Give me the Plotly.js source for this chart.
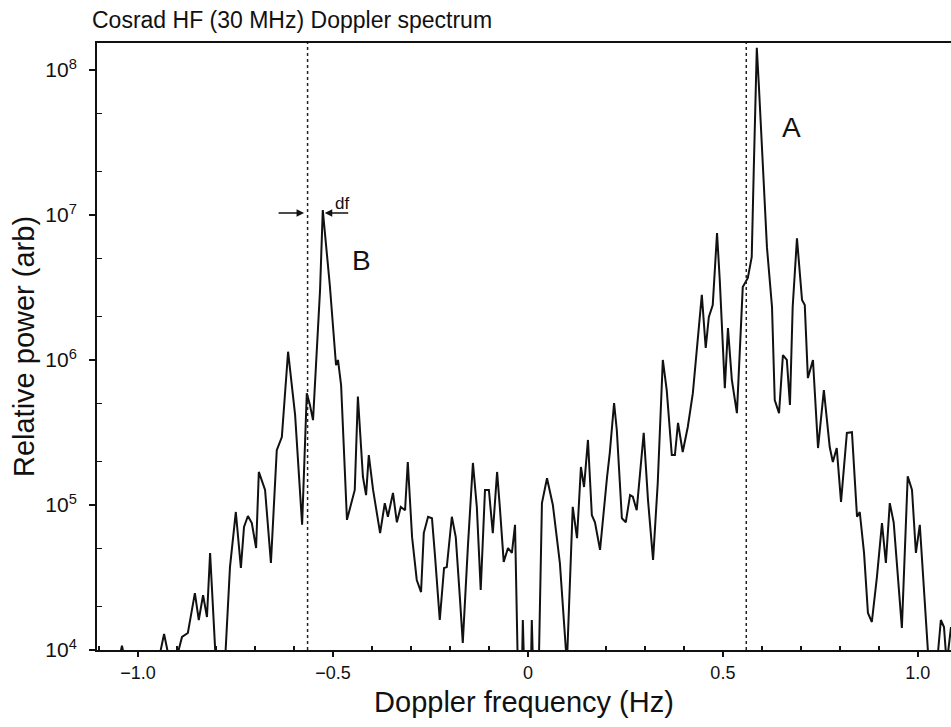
<!DOCTYPE html>
<html>
<head>
<meta charset="utf-8">
<script src="https://cdn.plot.ly/plotly-3.0.1.min.js"></script>
<style>html,body{margin:0;padding:0;background:#fff;}#chart{width:951px;height:727px;}</style>
</head>
<body>
<div id="chart"></div>
<script>
// Doppler frequency (Hz)
const freq = [
  -1.100, -1.051, -1.041, -1.031, -0.949, -0.933, -0.921, -0.900, -0.887, -0.872,
  -0.854, -0.844, -0.833, -0.823, -0.815, -0.800, -0.777, -0.764, -0.749, -0.736,
  -0.728, -0.718, -0.708, -0.697, -0.690, -0.674, -0.659, -0.644, -0.631, -0.623,
  -0.615, -0.597, -0.579, -0.567, -0.559, -0.551, -0.533, -0.526, -0.508, -0.492,
  -0.487, -0.479, -0.464, -0.444, -0.436, -0.423, -0.415, -0.408, -0.397, -0.379,
  -0.367, -0.359, -0.346, -0.336, -0.326, -0.315, -0.308, -0.297, -0.285, -0.274,
  -0.267, -0.256, -0.246, -0.238, -0.226, -0.215, -0.208, -0.195, -0.185, -0.174,
  -0.167, -0.154, -0.141, -0.131, -0.121, -0.110, -0.100, -0.090, -0.079, -0.072,
  -0.062, -0.051, -0.041, -0.033, -0.026, -0.015, -0.013, -0.010, 0.008, 0.010,
  0.013, 0.028, 0.036, 0.049, 0.064, 0.082, 0.100, 0.115, 0.126, 0.136,
  0.144, 0.154, 0.164, 0.172, 0.185, 0.203, 0.210, 0.221, 0.228, 0.241,
  0.251, 0.262, 0.269, 0.279, 0.297, 0.308, 0.321, 0.333, 0.346, 0.356,
  0.369, 0.377, 0.385, 0.397, 0.410, 0.423, 0.446, 0.456, 0.464, 0.474,
  0.485, 0.492, 0.505, 0.513, 0.523, 0.536, 0.546, 0.551, 0.564, 0.574,
  0.579, 0.585, 0.587, 0.592, 0.600, 0.613, 0.626, 0.633, 0.644, 0.654,
  0.664, 0.672, 0.679, 0.690, 0.703, 0.710, 0.718, 0.731, 0.744, 0.759,
  0.774, 0.782, 0.792, 0.803, 0.818, 0.831, 0.844, 0.851, 0.862, 0.872,
  0.882, 0.895, 0.908, 0.918, 0.928, 0.938, 0.959, 0.974, 0.985, 0.995,
  1.005, 1.028, 1.049, 1.059, 1.067, 1.074, 1.085
];
// Relative power (arb)
const power = [
  8e3, 8e3, 1.07e4, 8e3, 8e3, 1.29e4, 9e3, 9e3, 1.23e4, 1.31e4,
  2.47e4, 1.61e4, 2.39e4, 1.69e4, 4.67e4, 8e3, 8e3, 3.73e4, 8.95e4, 3.68e4,
  7.05e4, 8.4e4, 7.5e4, 5.05e4, 1.69e5, 1.27e5, 3.98e4, 2.39e5, 2.94e5, 6.2e5,
  1.14e6, 4.18e5, 7.3e4, 5.9e5, 4.9e5, 3.85e5, 3.04e6, 1.08e7, 3.29e6, 9.2e5,
  1.0e6, 6.7e5, 7.9e4, 1.27e5, 5.6e5, 1.56e5, 1.17e5, 2.21e5, 1.27e5, 6.4e4,
  1.03e5, 8.3e4, 1.21e5, 7.6e4, 9.7e4, 9.2e4, 1.98e5, 6.0e4, 3.04e4, 2.51e4,
  6.4e4, 8.3e4, 8.1e4, 4.38e4, 1.61e4, 3.68e4, 3.73e4, 8.3e4, 6.0e4, 2.21e4,
  1.12e4, 5.1e4, 1.95e5, 9.7e4, 2.59e4, 1.27e5, 1.27e5, 6.4e4, 1.69e5, 9.7e4,
  4.05e4, 5.05e4, 4.67e4, 7.3e4, 8e3, 8e3, 1.61e4, 8e3, 8e3, 1.61e4,
  8e3, 8e3, 1.03e5, 1.53e5, 1.0e5, 3.98e4, 8e3, 9.7e4, 5.9e4, 1.83e5,
  1.33e5, 2.81e5, 8.5e4, 7.6e4, 4.9e4, 1.56e5, 2.29e5, 5.05e5, 3.29e5, 8.1e4,
  7.6e4, 1.17e5, 1.14e5, 9.2e4, 3.14e5, 1.08e5, 4.18e4, 1.42e5, 1.0e6, 6.2e5,
  2.21e5, 2.21e5, 3.68e5, 2.32e5, 3.45e5, 5.9e5, 2.81e6, 1.21e6, 1.98e6, 2.39e6,
  7.5e6, 3.56e6, 6.4e5, 1.66e6, 7.3e5, 4.3e5, 1.61e6, 3.18e6, 3.68e6, 5.13e6,
  1.95e7, 7.3e7, 1.42e8, 8.1e7, 2.94e7, 6.0e6, 2.32e6, 5.3e5, 4.3e5, 1.08e6,
  1.0e6, 4.9e5, 2.32e6, 6.9e6, 2.59e6, 2.39e6, 7.5e5, 1.0e6, 2.47e5, 6.2e5,
  2.51e5, 1.98e5, 2.47e5, 1.05e5, 3.14e5, 3.18e5, 8.3e4, 8.95e4, 4.67e4, 1.80e4,
  1.56e4, 3.18e4, 7.5e4, 3.98e4, 1.03e5, 7.6e4, 1.42e4, 1.58e5, 1.27e5, 4.67e4,
  7.3e4, 8e3, 8e3, 1.61e4, 1.44e4, 8e3, 1.44e4
];
if (freq.length !== power.length) throw new Error('length mismatch ' + freq.length + ' ' + power.length);

// Axis ticks
const xTickVals = [-1.0, -0.5, 0, 0.5, 1.0];
const xTickText = ['\u22121.0', '\u22120.5', '0', '0.5', '1.0'];
const xMinorVals = [-1.1, -0.9, -0.8, -0.7, -0.6, -0.4, -0.3, -0.2, -0.1, 0.1, 0.2, 0.3, 0.4, 0.6, 0.7, 0.8, 0.9];
const yTickVals = [1e4, 1e5, 1e6, 1e7, 1e8];
const yTickText = ['10<sup>4</sup>', '10<sup>5</sup>', '10<sup>6</sup>', '10<sup>7</sup>', '10<sup>8</sup>'];
const yMinorVals = [2e4, 5e4, 2e5, 5e5, 2e6, 5e6, 2e7, 5e7];

// Reference lines and labels
const refLines = [-0.565, 0.56];
const FONT = '"Liberation Sans", Arial, Helvetica, sans-serif';

const trace = {
  x: freq, y: power, type: 'scatter', mode: 'lines',
  line: {color: '#111', width: 2}, hoverinfo: 'skip', showlegend: false
};

const layout = {
  width: 951, height: 727,
  margin: {l: 97, r: 0, t: 43, b: 77},
  paper_bgcolor: '#fff', plot_bgcolor: '#fff',
  font: {family: FONT, color: '#111'},
  title: {
    text: 'Cosrad HF (30 MHz) Doppler spectrum',
    font: {family: FONT, size: 23, color: '#111'},
    x: 92 / 951, xanchor: 'left', xref: 'container',
    y: 1 - 20 / 727, yanchor: 'middle', yref: 'container'
  },
  xaxis: {
    range: [-1.105, 1.085], showgrid: false, zeroline: false,
    showline: true, linecolor: '#111', linewidth: 2, mirror: true,
    tickmode: 'array', tickvals: xTickVals, ticktext: xTickText,
    ticks: 'outside', ticklen: 5, tickwidth: 1.5, tickcolor: '#111',
    ticklabelstandoff: 0,
    tickfont: {family: FONT, size: 18, color: '#111'},
    minor: {tickmode: 'array', tickvals: xMinorVals, ticks: 'inside', ticklen: 4, tickwidth: 1.5, tickcolor: '#111', showgrid: false},
    title: {text: 'Doppler frequency (Hz)', font: {family: FONT, size: 29, color: '#111'}, standoff: 10}
  },
  yaxis: {
    type: 'log', range: [4, 8.186], showgrid: false, zeroline: false,
    showline: true, linecolor: '#111', linewidth: 2, mirror: false,
    tickmode: 'array', tickvals: yTickVals, ticktext: yTickText,
    ticks: 'outside', ticklen: 6, tickwidth: 1.5, tickcolor: '#111',
    ticklabelstandoff: 8,
    tickfont: {family: FONT, size: 21, color: '#111'},
    minor: {tickmode: 'array', tickvals: yMinorVals, ticks: 'inside', ticklen: 5, tickwidth: 1.5, tickcolor: '#111', showgrid: false},
    title: {text: 'Relative power (arb)', font: {family: FONT, size: 29, color: '#111'}, standoff: 2}
  },
  shapes: refLines.map(v => ({
    type: 'line', xref: 'x', yref: 'paper', x0: v, x1: v, y0: 0, y1: 1,
    line: {color: '#222', width: 1.5, dash: 'dot'}
  })),
  annotations: [
    {xref: 'x', yref: 'paper', x: 0.677, y: 0.89, text: 'A', showarrow: false,
     font: {family: FONT, size: 28, color: '#111'}},
    {xref: 'x', yref: 'paper', x: -0.426, y: 0.642, text: 'B', showarrow: false,
     font: {family: FONT, size: 28, color: '#111'}},
    {xref: 'x', yref: 'paper', x: -0.477, y: 0.755, text: 'df', showarrow: false,
     font: {family: FONT, size: 17, color: '#111'}},
    {xref: 'x', yref: 'paper', x: -0.574, y: 0.72, ax: -27, ay: 0, text: '', showarrow: true,
     arrowhead: 2, arrowsize: 1, arrowwidth: 1.5, arrowcolor: '#111'},
    {xref: 'x', yref: 'paper', x: -0.521, y: 0.72, ax: 25, ay: 0, text: '', showarrow: true,
     arrowhead: 2, arrowsize: 1, arrowwidth: 1.5, arrowcolor: '#111'}
  ]
};

Plotly.newPlot('chart', [trace], layout, {staticPlot: true, displayModeBar: false});
</script>
</body>
</html>
